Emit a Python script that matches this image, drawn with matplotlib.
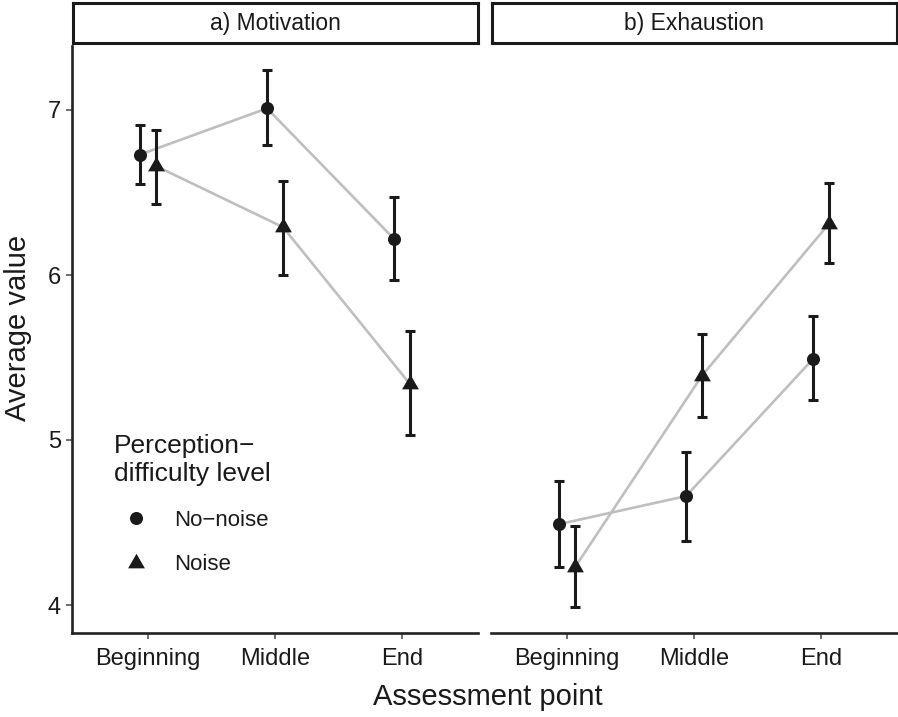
import matplotlib
matplotlib.use('Agg')
import matplotlib.pyplot as plt
from matplotlib.lines import Line2D
import numpy as np

plt.rcParams['font.family'] = ['Liberation Sans', 'DejaVu Sans']

points = ['Beginning', 'Middle', 'End']
groups = ['No\u2212noise', 'Noise']
panels = ['a) Motivation', 'b) Exhaustion']

# means and error bar limits
motivation_mean = {'No\u2212noise': [6.73, 7.01, 6.22], 'Noise': [6.66, 6.29, 5.34]}
motivation_low = {'No\u2212noise': [6.55, 6.79, 5.97], 'Noise': [6.43, 6.00, 5.03]}
motivation_high = {'No\u2212noise': [6.91, 7.24, 6.47], 'Noise': [6.88, 6.57, 5.66]}

exhaustion_mean = {'No\u2212noise': [4.49, 4.66, 5.49], 'Noise': [4.23, 5.39, 6.31]}
exhaustion_low = {'No\u2212noise': [4.23, 4.39, 5.24], 'Noise': [3.99, 5.14, 6.07]}
exhaustion_high = {'No\u2212noise': [4.75, 4.93, 5.75], 'Noise': [4.48, 5.64, 6.56]}

yticks = [4, 5, 6, 7]

W, H = 898, 717
fig = plt.figure(figsize=(W / 100, H / 100), dpi=100)

# equilateral triangle marker like ggplot shape 17
tri = [(-1, -0.577), (1, -0.577), (0, 1.155), (-1, -0.577)]
markers = {'No\u2212noise': dict(marker='o', ms=9.4),
           'Noise': dict(marker=tri, ms=14)}
dodge = {'No\u2212noise': -0.063, 'Noise': 0.063}

ink = '#1a1a1a'
line_gray = '#bfbfbf'

data = [(motivation_mean, motivation_low, motivation_high),
        (exhaustion_mean, exhaustion_low, exhaustion_high)]
lefts = [72, 491]
pw = 406
top_px, bot_px = 46, 633

axes = []
for i, (mean, low, high) in enumerate(data):
    ax = fig.add_axes([lefts[i] / W, 1 - bot_px / H, pw / W, (bot_px - top_px) / H])
    x = np.arange(1, len(points) + 1)
    for g in groups:
        xs = x + dodge[g]
        m = np.array(mean[g])
        ax.plot(xs, m, color=line_gray, lw=1.9, zorder=1)
        err = [m - np.array(low[g]), np.array(high[g]) - m]
        ax.errorbar(xs, m, yerr=err, fmt='none', ecolor=ink, elinewidth=2.2,
                    capsize=3.3, capthick=2.2, zorder=2)
        ax.plot(xs, m, linestyle='none', color=ink, mec=ink, mew=0, zorder=3,
                **markers[g])
    ax.set_xlim(0.4, 3.6)
    ax.set_ylim(4 - 28 / 165, 7 + 64 / 165)
    ax.set_xticks(x)
    ax.set_xticklabels(points, fontsize=17, color=ink)
    ax.set_yticks(yticks)
    ax.set_yticklabels([str(t) for t in yticks], fontsize=17, color=ink)
    ax.tick_params(length=4.5, width=1.2, color='#555555', pad=3.5)
    ax.tick_params(axis='x', pad=6.5)
    for s in ['top', 'right']:
        ax.spines[s].set_visible(False)
    ax.spines['bottom'].set_linewidth(1.9)
    ax.spines['bottom'].set_color('#222222')
    ax.spines['left'].set_linewidth(1.9)
    ax.spines['left'].set_color('#222222')
    if i == 1:
        ax.spines['left'].set_visible(False)
        ax.tick_params(axis='y', left=False, labelleft=False)

    # facet strip
    sx = fig.add_axes([(lefts[i] + 1) / W, 1 - 43 / H, (pw - 1) / W, 40 / H])
    sx.set_xticks([])
    sx.set_yticks([])
    for s in sx.spines.values():
        s.set_linewidth(2.2)
        s.set_color(ink)
    sx.text(0.5, 0.48, panels[i], ha='center', va='center', fontsize=16.5,
            color=ink, transform=sx.transAxes)
    axes.append(ax)

fig.text(18 / W, 1 - 328 / H, 'Average value', rotation=90, ha='center',
         va='center', fontsize=21, color=ink)
fig.text(488 / W, 1 - 697 / H, 'Assessment point', ha='center', va='center',
         fontsize=21, color=ink)

# legend title, two lines
fig.text(114 / W, 1 - 453 / H, 'Perception\u2212', ha='left', va='baseline',
         fontsize=19, color=ink)
fig.text(114 / W, 1 - 481 / H, 'difficulty level', ha='left', va='baseline',
         fontsize=19, color=ink)

handles = [Line2D([], [], linestyle='none', color=ink, mew=0, **markers[g])
           for g in groups]
leg = axes[0].legend(handles, groups, loc='upper left',
                     bbox_to_anchor=(115 / W, 1 - 510 / H),
                     bbox_transform=fig.transFigure, frameon=False,
                     fontsize=16, borderpad=0, borderaxespad=0,
                     handlelength=1.85, handletextpad=0.8, labelspacing=1.05)
for t in leg.get_texts():
    t.set_color(ink)

fig.savefig('out.png', dpi=100)
